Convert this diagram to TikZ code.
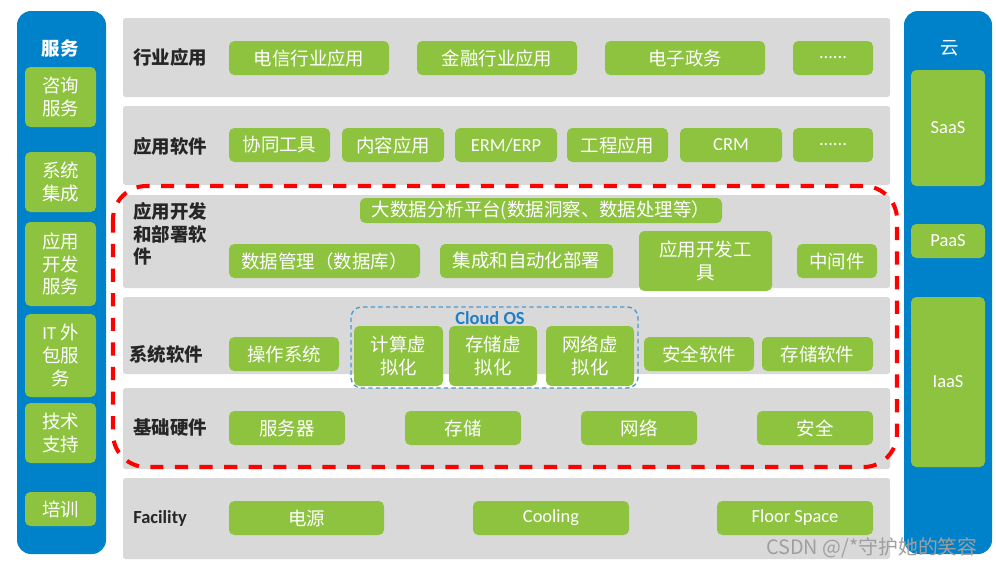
\documentclass[tikz,border=0pt]{standalone}
\usepackage{fontspec}
\setmainfont{Carlito}
\newfontfamily\cjk{Noto Sans CJK SC}
\usetikzlibrary{calc}
\definecolor{panelblue}{RGB}{0,130,202}
\definecolor{itemgreen}{RGB}{141,195,63}
\definecolor{layergray}{RGB}{217,217,217}
\definecolor{osblue}{RGB}{31,128,200}
\definecolor{labeltxt}{RGB}{38,38,38}
\tikzset{
  panel/.style={fill=panelblue, rounded corners=8pt},
  layer/.style={fill=layergray, rounded corners=1.5pt},
  item/.style={fill=itemgreen, rounded corners=3pt},
  itemtxt/.style={text=white, align=center, inner sep=0pt, font=\fontsize{10.5}{13}\selectfont\cjk},
  layertxt/.style={text=labeltxt, anchor=west, align=left, inner sep=0pt, font=\fontsize{10.5}{12.8}\selectfont\bfseries\cjk},
}
\newcommand\gbox[6]{%
  \fill[item] (#2,#3) rectangle (#4,#5);
  \node[itemtxt] (#1) at ($(#2,#3)!.5!(#4,#5)$) {#6};
}
\begin{document}
\begin{tikzpicture}[x=0.02cm,y=-0.02cm]
\useasboundingbox[fill=white] (0,0) rectangle (996,568);
% side panels
\fill[panel] (17,11) rectangle (106,554);
\fill[panel] (904,11) rectangle (992,554);
\node[itemtxt, font=\fontsize{10.5}{13}\selectfont\bfseries\cjk] (svc) at (60,48) {服务};
\node[itemtxt] (cloud) at (950,48) {云};
\gbox{consult}{25}{67}{96}{127}{咨询\\服务}
\gbox{integ}{25}{152}{96}{212}{系统\\集成}
\gbox{appdev}{25}{222}{96}{306}{应用\\开发\\服务}
\gbox{outsrc}{25}{314}{96}{397}{{\rmfamily IT} 外\\包服\\务}
\gbox{support}{25}{403}{96}{463}{技术\\支持}
\gbox{train}{25}{492}{96}{526}{培训}
\gbox{saas}{911}{70}{985}{186}{\rmfamily SaaS}
\gbox{paas}{911}{224}{985}{258}{\rmfamily PaaS}
\gbox{iaas}{911}{297}{985}{467}{\rmfamily IaaS}
% layers
\fill[layer] (123,18) rectangle (890,97);
\fill[layer] (123,106) rectangle (890,185);
\fill[layer] (123,195) rectangle (890,288);
\fill[layer] (123,297) rectangle (890,374);
\fill[layer] (123,388) rectangle (890,469);
\fill[layer] (123,478) rectangle (890,559);
\node[layertxt] (l1) at (133,57) {行业应用};
\node[layertxt] (l2) at (133,146) {应用软件};
\node[layertxt] (l3) at (133,234) {应用开发\\和部署软\\件};
\node[layertxt] (l4) at (129,354) {系统软件};
\node[layertxt] (l5) at (133,427) {基础硬件};
\node[layertxt, font=\fontsize{10.5}{12.8}\selectfont\bfseries] (l6) at (133,518) {Facility};
% 行业应用
\gbox{telecom}{229}{41}{389}{75}{电信行业应用}
\gbox{finance}{417}{41}{577}{75}{金融行业应用}
\gbox{egov}{605}{41}{765}{75}{电子政务}
\gbox{more1}{793}{41}{873}{75}{\rmfamily ......}
% 应用软件
\gbox{collab}{229}{128}{330}{162}{协同工具}
\gbox{content}{342}{128}{444}{162}{内容应用}
\gbox{erp}{455}{128}{557}{162}{\rmfamily ERM/ERP}
\gbox{eng}{567}{128}{668}{162}{工程应用}
\gbox{crm}{680}{128}{782}{162}{\rmfamily CRM}
\gbox{more2}{793}{128}{873}{162}{\rmfamily ......}
% 应用开发和部署软件
\gbox{bigdata}{360}{198}{722}{223}{大数据分析平台(数据洞察、数据处理等）}
\gbox{dbms}{229}{244}{420}{278}{数据管理（数据库）}
\gbox{deploy}{440}{244}{613}{278}{集成和自动化部署}
\gbox{devtool}{639}{231}{772}{291}{应用开发工\\具}
\gbox{mw}{797}{244}{877}{278}{中间件}
% 系统软件
\draw[osblue!80, line width=0.8pt, dash pattern=on 2.5pt off 1.8pt, rounded corners=6pt] (351,307) rectangle (638,388);
\node[text=osblue, font=\fontsize{10.5}{13}\selectfont\bfseries] (cos) at (490,318) {Cloud OS};
\gbox{os}{229}{337}{339}{371}{操作系统}
\gbox{cvirt}{354}{326}{443}{386}{计算虚\\拟化}
\gbox{svirt}{449}{326}{537}{386}{存储虚\\拟化}
\gbox{nvirt}{546}{326}{634}{386}{网络虚\\拟化}
\gbox{secsw}{644}{337}{754}{371}{安全软件}
\gbox{storsw}{762}{337}{873}{371}{存储软件}
% 基础硬件
\gbox{server}{229}{411}{345}{445}{服务器}
\gbox{storage}{405}{411}{521}{445}{存储}
\gbox{network}{581}{411}{697}{445}{网络}
\gbox{security}{757}{411}{873}{445}{安全}
% Facility
\gbox{power}{229}{501}{384}{535}{电源}
\gbox{cooling}{473}{501}{629}{535}{\rmfamily Cooling}
\gbox{floor}{717}{501}{873}{535}{\rmfamily Floor Space}
% red dashed frame
\draw[red, line width=2.3pt, dash pattern=on 7.5pt off 6.5pt, rounded corners=19pt] (113,186) rectangle (897,467);
\node[text=gray!75, font=\fontsize{11.3}{13}\selectfont\cjk] (wm) at (872,548) {CSDN @/*守护她的笑容};
\end{tikzpicture}
\end{document}
